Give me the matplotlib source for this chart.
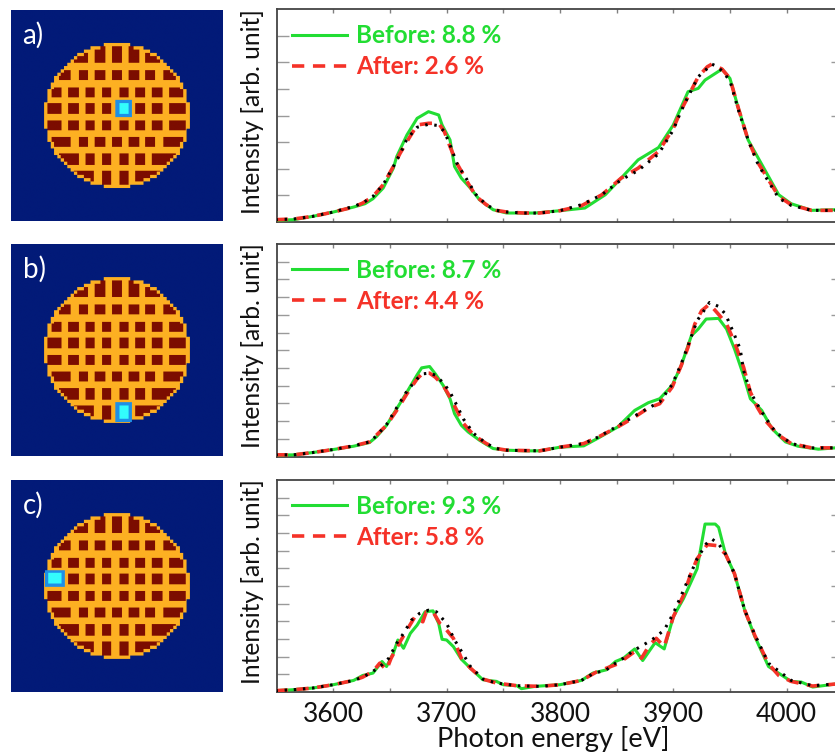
import numpy as np
import matplotlib
matplotlib.use("Agg")
import matplotlib.pyplot as plt
from matplotlib.colors import ListedColormap
from matplotlib.lines import Line2D

W, H = 835, 755
plt.rcParams['font.family'] = ['Lato', 'DejaVu Sans']

# ---------- brown blocks of the grid map: (row start, row end, column spans) in map cells
col_a = [(27.6, 30.4), (32.8, 35.6), (37.6, 40.6)]
col_b = [(25.4, 28.5), (30.5, 33.7), (35.7, 38.8)]
block_rows = [
    (11.0, 16.1, [(12.0, 23.4)] + col_b + [(40.7, 52.0)]),
    (18.4, 21.4, [(14.5, 18.2), (20.6, 23.4)] + col_b + [(40.7, 43.6), (46.0, 49.8)]),
    (23.5, 26.5, [(12.3, 15.4), (17.3, 20.6), (22.5, 25.4)] + col_a + [(42.7, 45.9), (47.9, 52.1)]),
    (28.4, 31.5, [(11.2, 15.4), (17.3, 20.6), (22.5, 25.4)] + col_a + [(42.7, 45.9), (47.9, 52.9)]),
    (33.5, 36.6, [(11.2, 15.4), (17.3, 20.6), (22.5, 25.4)] + col_a + [(42.7, 45.9), (47.9, 52.9)]),
    (38.6, 41.7, [(12.3, 18.2), (20.6, 23.4)] + col_b + [(40.7, 43.6), (46.0, 52.1)]),
    (43.7, 47.0, [(14.5, 20.6), (22.5, 25.4)] + col_a + [(42.7, 49.8)]),
    (48.9, 53.1, [(12.0, 25.2)] + col_a + [(37.6, 52.0)]),
]
# highlighted block: outer (x0, x1, y0, y1), inner (x0, x1, y0, y1)
marker_a = ((31.5, 36.6, 27.4, 32.6), (32.8, 35.6, 28.4, 31.5))
marker_b = ((31.5, 36.6, 47.8, 53.8), (32.8, 35.6, 48.9, 52.9))
marker_c = ((10.3, 16.3, 27.4, 32.4), (11.3, 15.4, 28.2, 31.4))

# ---------- spectra: photon energy [eV], intensity [arb. unit]
a_green_x = [3549,3565,3582,3600,3618,3628,3635,3644,3653,3656,3665,3674,3684,3693,3696,3703,3707,3713,3721,3729,3741,3753,3771,3778,3800,3822,3840,3854,3869,3887,3900,3913,3922,3928,3943,3950,3957,3966,3975,3984,3993,4004,4022,4043,4050]
a_green_y = [5,7,17,30,45,55,70,102,162,197,262,312,332,322,292,247,167,132,102,67,37,27,27,27,34,42,82,132,187,224,292,392,402,427,460,432,347,247,192,137,82,55,35,37,37]
a_red_x = [3549,3565,3582,3600,3618,3626,3635,3644,3653,3659,3665,3674,3684,3693,3698,3703,3709,3718,3726,3735,3744,3753,3768,3782,3800,3819,3837,3854,3869,3887,3900,3907,3913,3922,3930,3934,3938,3943,3950,3957,3966,3975,3984,3993,4004,4022,4043,4050]
a_red_y = [7,9,17,30,45,57,77,112,167,207,242,292,297,297,272,227,177,122,77,52,35,30,27,27,34,49,82,132,162,212,282,337,377,437,467,475,469,460,432,347,247,177,127,77,52,35,35,35]
a_ref_x = [3549,3565,3582,3600,3618,3626,3635,3644,3653,3659,3665,3674,3684,3693,3698,3703,3709,3718,3726,3735,3744,3753,3768,3782,3800,3819,3837,3854,3869,3887,3900,3907,3913,3922,3930,3934,3938,3943,3950,3957,3966,3975,3984,3993,4004,4022,4043,4050]
a_ref_y = [7,9,17,30,47,57,77,112,167,205,250,285,294,290,272,232,177,127,82,52,35,30,27,27,34,52,82,127,155,205,277,335,377,437,462,475,469,455,425,342,247,172,122,72,50,35,35,35]

b_green_x = [3549,3565,3582,3600,3618,3632,3638,3647,3656,3665,3674,3678,3685,3690,3697,3703,3707,3713,3719,3729,3741,3753,3771,3782,3800,3821,3834,3851,3866,3878,3888,3899,3907,3916,3922,3929,3940,3947,3954,3962,3968,3978,3987,3999,4010,4028,4043,4050]
b_green_y = [4,5,12,21,31,42,59,94,144,194,246,267,271,249,214,174,129,94,74,49,24,19,17,17,28,32,56,89,139,162,174,214,274,364,384,414,416,384,324,244,174,139,84,44,31,22,26,26]
b_red_x = [3549,3565,3582,3600,3618,3632,3638,3647,3656,3665,3674,3679,3685,3690,3697,3703,3709,3715,3724,3735,3744,3753,3782,3800,3821,3834,3851,3866,3878,3888,3899,3907,3913,3919,3925,3932,3941,3947,3954,3962,3968,3974,3981,3993,4004,4022,4043,4050]
b_red_y = [5,5,12,21,32,44,64,94,139,189,234,251,251,239,214,179,139,99,64,39,24,19,17,28,39,59,89,119,146,159,209,274,329,399,439,459,424,399,344,269,194,149,109,64,39,26,26,26]
b_ref_x = [3549,3565,3582,3600,3618,3632,3638,3647,3656,3665,3674,3679,3685,3690,3697,3703,3709,3715,3724,3735,3744,3753,3782,3800,3821,3834,3851,3866,3878,3888,3899,3907,3913,3921,3925,3932,3940,3946,3953,3959,3962,3968,3978,3990,4004,4022,4043,4050]
b_ref_y = [5,5,12,21,32,44,62,96,147,197,234,249,251,245,222,194,154,112,69,39,24,19,17,28,39,59,92,122,146,164,217,279,334,409,429,464,452,429,374,324,259,194,134,74,39,26,26,26]

c_green_x = [3549,3565,3582,3600,3618,3626,3635,3643,3647,3653,3657,3662,3668,3674,3681,3688,3693,3696,3700,3706,3713,3721,3732,3744,3750,3762,3766,3778,3800,3819,3829,3841,3849,3856,3866,3873,3884,3892,3900,3909,3921,3928,3937,3940,3946,3954,3963,3972,3984,4004,4013,4023,4043,4050]
c_green_y = [4,7,12,22,35,50,57,92,77,117,157,132,177,202,242,245,207,159,157,137,99,72,37,32,22,19,10,17,22,35,57,67,92,102,130,95,149,130,227,282,372,507,507,497,417,357,247,167,77,32,30,15,24,24]
c_red_x = [3549,3565,3582,3600,3618,3626,3635,3641,3647,3651,3659,3665,3672,3679,3682,3688,3694,3700,3706,3713,3721,3732,3744,3762,3782,3800,3819,3832,3851,3866,3872,3879,3885,3892,3900,3909,3915,3921,3930,3938,3946,3954,3963,3972,3984,3993,4004,4023,4043,4050]
c_red_y = [4,7,12,22,35,45,62,87,67,102,152,187,227,212,242,242,207,187,162,102,72,39,27,19,17,22,35,60,85,122,102,142,162,137,227,292,352,402,445,442,417,357,247,170,85,50,32,18,24,24]
c_ref_x = [3549,3565,3582,3600,3618,3626,3635,3643,3649,3656,3662,3669,3676,3684,3691,3700,3707,3715,3721,3732,3744,3762,3782,3800,3819,3829,3841,3849,3856,3866,3881,3892,3900,3909,3921,3929,3934,3940,3946,3954,3963,3972,3984,4004,4023,4043,4050]
c_ref_y = [4,7,12,22,35,45,62,82,102,147,177,217,237,247,242,207,157,112,77,39,27,19,17,22,35,55,67,87,102,127,157,187,237,307,402,447,462,447,417,357,247,172,87,35,19,24,24]

panel_names = ['a)', 'b)', 'c)']
before_labels = ['Before: 8.8 %', 'Before: 8.7 %', 'Before: 9.3 %']
after_labels = ['After: 2.6 %', 'After: 4.4 %', 'After: 5.8 %']
tick_counts = [8, 12, 12]
x_ticks = [3600, 3700, 3800, 3900, 4000]
x_minor = [3650, 3750, 3850, 3950]

GREEN, RED = '#22dd33', '#f53228'
map_cmap = ListedColormap(['#021a78', '#fdb022', '#7c0d00', '#1f8fe6', '#33fdfd'])


def px_axes(x0, y0, x1, y1):
    return fig.add_axes([x0 / W, 1 - y1 / H, (x1 - x0) / W, (y1 - y0) / H])


def build_map(marker):
    f = 4
    n = 64
    c = (np.arange(n) + 0.5 - 32)
    xx, yy = np.meshgrid(c, c)
    outer = np.kron((xx**2 + yy**2) <= 21.9**2, np.ones((f, f), bool))
    inner = np.kron((xx**2 + yy**2) <= 21.0**2, np.ones((f, f), bool))
    g = np.zeros((n * f, n * f), int)
    g[outer] = 1
    for y0, y1, spans in block_rows:
        for x0, x1 in spans:
            b = np.zeros_like(inner)
            b[int(y0 * f):int(y1 * f), int(x0 * f):int(x1 * f)] = True
            g[b & inner] = 2
    for val, (x0, x1, y0, y1) in zip((3, 4), marker):
        g[int(y0 * f):int(y1 * f), int(x0 * f):int(x1 * f)] = val
    return g


fig = plt.figure(figsize=(W / 100, H / 100), dpi=100, facecolor='white')

map_boxes = [(11, 10, 222, 221), (11, 244, 222, 456), (11, 480, 222, 692)]
plot_boxes = [(276.6, 9.3, 843.3, 222), (276.6, 244, 843.3, 456.5), (276.6, 480, 843.3, 692)]
markers = [marker_a, marker_b, marker_c]
spectra = [
    (a_green_x, a_green_y, a_red_x, a_red_y, a_ref_x, a_ref_y),
    (b_green_x, b_green_y, b_red_x, b_red_y, b_ref_x, b_ref_y),
    (c_green_x, c_green_y, c_red_x, c_red_y, c_ref_x, c_ref_y),
]

for i in range(3):
    am = px_axes(*map_boxes[i])
    am.imshow(build_map(markers[i]), cmap=map_cmap, vmin=0, vmax=4,
              extent=(0, 64, 64, 0), interpolation='antialiased', aspect='auto')
    am.axis('off')
    am.text(0.055, 0.84, panel_names[i], transform=am.transAxes, color='white',
            fontsize=20, va='baseline', ha='left')

    ax = px_axes(*plot_boxes[i])
    gx, gy, rx, ry, kx, ky = spectra[i]
    ax.plot(gx, gy, color=GREEN, lw=2.2, zorder=3, solid_joinstyle='round')
    ax.plot(rx, ry, color=RED, lw=2.6, dashes=(3.4, 2.4), zorder=4)
    ax.plot(kx, ky, color='black', lw=2.2, dashes=(0.8, 2.2), zorder=5)
    ax.set_xlim(3550, 4050)
    ax.set_ylim(0, 640)
    n = tick_counts[i]
    step = 640 / n
    ax.set_yticks([k * step for k in range(1, n)])
    ax.set_yticks([k * step for k in range(2, n, 2)], minor=True)
    ax.yaxis.remove_overlapping_locs = False
    ax.tick_params(axis='y', which='major', left=True, right=False, length=8.5,
                   width=1, color='#9a9a9a', labelleft=False)
    ax.tick_params(axis='y', which='minor', left=False, right=True, length=8.5,
                   width=1, color='#9a9a9a')
    ax.set_xticks(x_ticks)
    ax.set_xticks(x_minor, minor=True)
    ax.tick_params(axis='x', which='both', direction='in', top=True, bottom=True,
                   length=3, width=1, color='#808080', labelbottom=(i == 2),
                   labelsize=19, pad=7, labelcolor='#111111')
    ax.tick_params(axis='y', which='both', direction='in')
    for s in ax.spines.values():
        s.set_color('#444444')
        s.set_linewidth(1.3)
    ax.set_ylabel('Intensity [arb. unit]', fontsize=17.7, color='#111111', labelpad=0)
    ax.yaxis.set_label_coords(-12.5 / (plot_boxes[i][2] - plot_boxes[i][0]), 0.52)
    if i == 2:
        ax.set_xlabel('Photon energy [eV]', fontsize=19.6, color='#111111', labelpad=0)
        ax.xaxis.set_label_coords((553 - 276.6) / 566.7, -34 / 212)
    handles = [Line2D([], [], color=GREEN, lw=2.2),
               Line2D([], [], color=RED, lw=2.6, dashes=(3.4, 2.4))]
    leg = ax.legend(handles, [before_labels[i], after_labels[i]], loc='upper left',
                    bbox_to_anchor=(15.5 / 566.7, 0.93), frameon=False,
                    prop={'family': 'Lato', 'weight': 'bold', 'size': 17.5},
                    handlelength=2.25, handletextpad=0.38, labelspacing=0.33,
                    borderpad=0, borderaxespad=0)
    for t, c in zip(leg.get_texts(), (GREEN, RED)):
        t.set_color(c)

fig.savefig('out.png', dpi=100)
